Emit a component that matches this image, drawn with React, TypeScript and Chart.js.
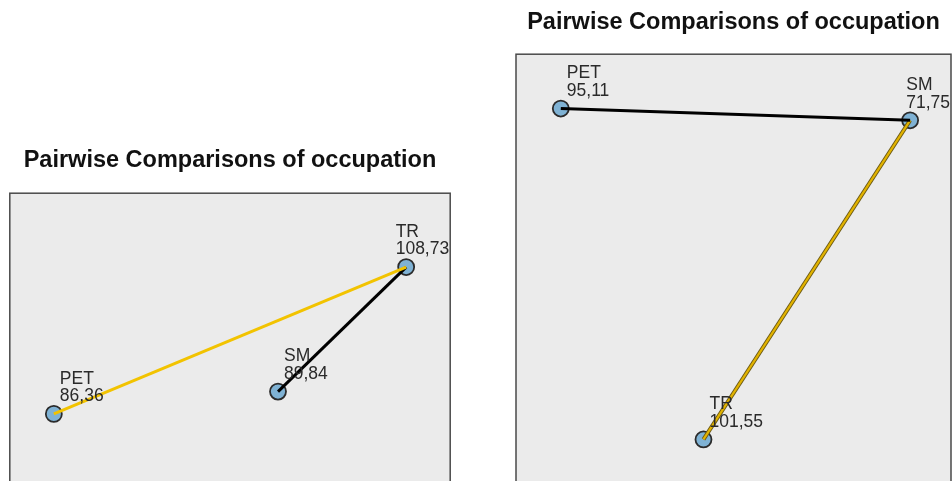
import React, { useEffect, useRef } from "react";
import { Chart, registerables } from "chart.js";

Chart.register(...registerables);

const TITLE = "Pairwise Comparisons of occupation";

// Left panel
const leftNames = ["PET", "SM", "TR"];
const leftRanks = ["86,36", "89,84", "108,73"];
const leftX = [10.0, 60.9, 90.0];
const leftY = [50.5, 45.4, 16.9];
const leftEdges: [number, number, string][] = [
  [0, 2, "yellow"],
  [1, 2, "black"],
];

// Right panel
const rightNames = ["PET", "SM", "TR"];
const rightRanks = ["95,11", "71,75", "101,55"];
const rightX = [10.3, 90.6, 43.1];
const rightY = [12.5, 15.2, 88.6];
const rightEdges: [number, number, string][] = [
  [0, 1, "black"],
  [1, 2, "yellowOutlined"],
];

const FONT = "'Liberation Sans', Arial, sans-serif";

function buildDatasets(xs: number[], ys: number[], edges: [number, number, string][]) {
  const ds: any[] = [];
  edges.forEach(([a, b, kind]) => {
    const pts = [
      { x: xs[a], y: ys[a] },
      { x: xs[b], y: ys[b] },
    ];
    if (kind === "yellowOutlined") {
      ds.push({
        type: "line",
        data: pts,
        borderColor: "#6a5812",
        borderWidth: 4,
        pointRadius: 0,
        order: 1,
      });
      ds.push({
        type: "line",
        data: pts,
        borderColor: "#e2b300",
        borderWidth: 2.2,
        pointRadius: 0,
        order: 0,
      });
    } else {
      ds.push({
        type: "line",
        data: pts,
        borderColor: kind === "yellow" ? "#f2c300" : "#000000",
        borderWidth: 3,
        pointRadius: 0,
        order: 0,
      });
    }
  });
  ds.push({
    type: "scatter",
    data: xs.map((x, i) => ({ x, y: ys[i] })),
    backgroundColor: "#7fb2d4",
    borderColor: "#2b2b2b",
    borderWidth: 1.8,
    pointRadius: 8,
    order: 5,
  });
  return ds;
}

function Panel(props: {
  names: string[];
  ranks: string[];
  xs: number[];
  ys: number[];
  edges: [number, number, string][];
  style: React.CSSProperties;
  width: number;
  height: number;
  padding: { left: number; right: number; top: number; bottom: number };
  titlePad: { top: number; bottom: number };
}) {
  const ref = useRef<HTMLCanvasElement>(null);
  useEffect(() => {
    const { names, ranks, xs, ys, edges } = props;
    const boxPlugin = {
      id: "box",
      beforeDatasetsDraw(chart: any) {
        const { ctx, chartArea } = chart;
        ctx.save();
        ctx.fillStyle = "#ebebeb";
        ctx.fillRect(chartArea.left, chartArea.top, chartArea.right - chartArea.left, chartArea.bottom - chartArea.top);
        ctx.strokeStyle = "#4a4a4a";
        ctx.lineWidth = 1.5;
        ctx.strokeRect(chartArea.left, chartArea.top, chartArea.right - chartArea.left, chartArea.bottom - chartArea.top);
        ctx.restore();
      },
      afterDatasetsDraw(chart: any) {
        const { ctx, chartArea, scales } = chart;
        ctx.save();
        ctx.font = `17.5px ${FONT}`;
        ctx.fillStyle = "#2a2a2a";
        ctx.textBaseline = "middle";
        ctx.textAlign = "left";
        names.forEach((n, i) => {
          const px = scales.x.getPixelForValue(xs[i]);
          const py = scales.y.getPixelForValue(ys[i]);
          const w = Math.max(ctx.measureText(n).width, ctx.measureText(ranks[i]).width);
          let tx = px + 6;
          if (tx + w > chartArea.right - 1) tx = chartArea.right - 1 - w;
          ctx.fillText(n, tx, py - 35);
          ctx.fillText(ranks[i], tx, py - 17.5);
        });
        ctx.restore();
      },
    };
    const chart = new Chart(ref.current!, {
      type: "scatter",
      data: { datasets: buildDatasets(xs, ys, edges) },
      options: {
        animation: false,
        responsive: false,
        maintainAspectRatio: false,
        events: [],
        layout: { padding: props.padding },
        plugins: {
          legend: { display: false },
          tooltip: { enabled: false },
          title: {
            display: true,
            text: TITLE,
            color: "#111111",
            font: { family: FONT, size: 23.5, weight: "bold", lineHeight: 1.2 },
            padding: props.titlePad,
          },
        },
        scales: {
          x: { type: "linear", min: 0, max: 100, display: false },
          y: { type: "linear", min: 0, max: 100, reverse: true, display: false },
        },
      } as any,
      plugins: [boxPlugin],
    });
    return () => chart.destroy();
  }, []);
  return (
    <canvas
      ref={ref}
      width={props.width}
      height={props.height}
      style={{ position: "absolute", width: props.width, height: props.height, ...props.style }}
    />
  );
}

export default function App() {
  return (
    <div
      style={{
        position: "fixed",
        left: 0,
        top: 0,
        width: 952,
        height: 481,
        overflow: "hidden",
        background: "#ffffff",
      }}
    >
      <Panel
        names={leftNames}
        ranks={leftRanks}
        xs={leftX}
        ys={leftY}
        edges={leftEdges}
        style={{ left: 0, top: 140 }}
        width={460}
        height={500}
        padding={{ left: 9, right: 9, top: 0, bottom: 7 }}
        titlePad={{ top: 6, bottom: 19 }}
      />
      <Panel
        names={rightNames}
        ranks={rightRanks}
        xs={rightX}
        ys={rightY}
        edges={rightEdges}
        style={{ left: 500, top: 0 }}
        width={468}
        height={500}
        padding={{ left: 16, right: 17, top: 0, bottom: 11 }}
        titlePad={{ top: 8, bottom: 18 }}
      />
    </div>
  );
}
